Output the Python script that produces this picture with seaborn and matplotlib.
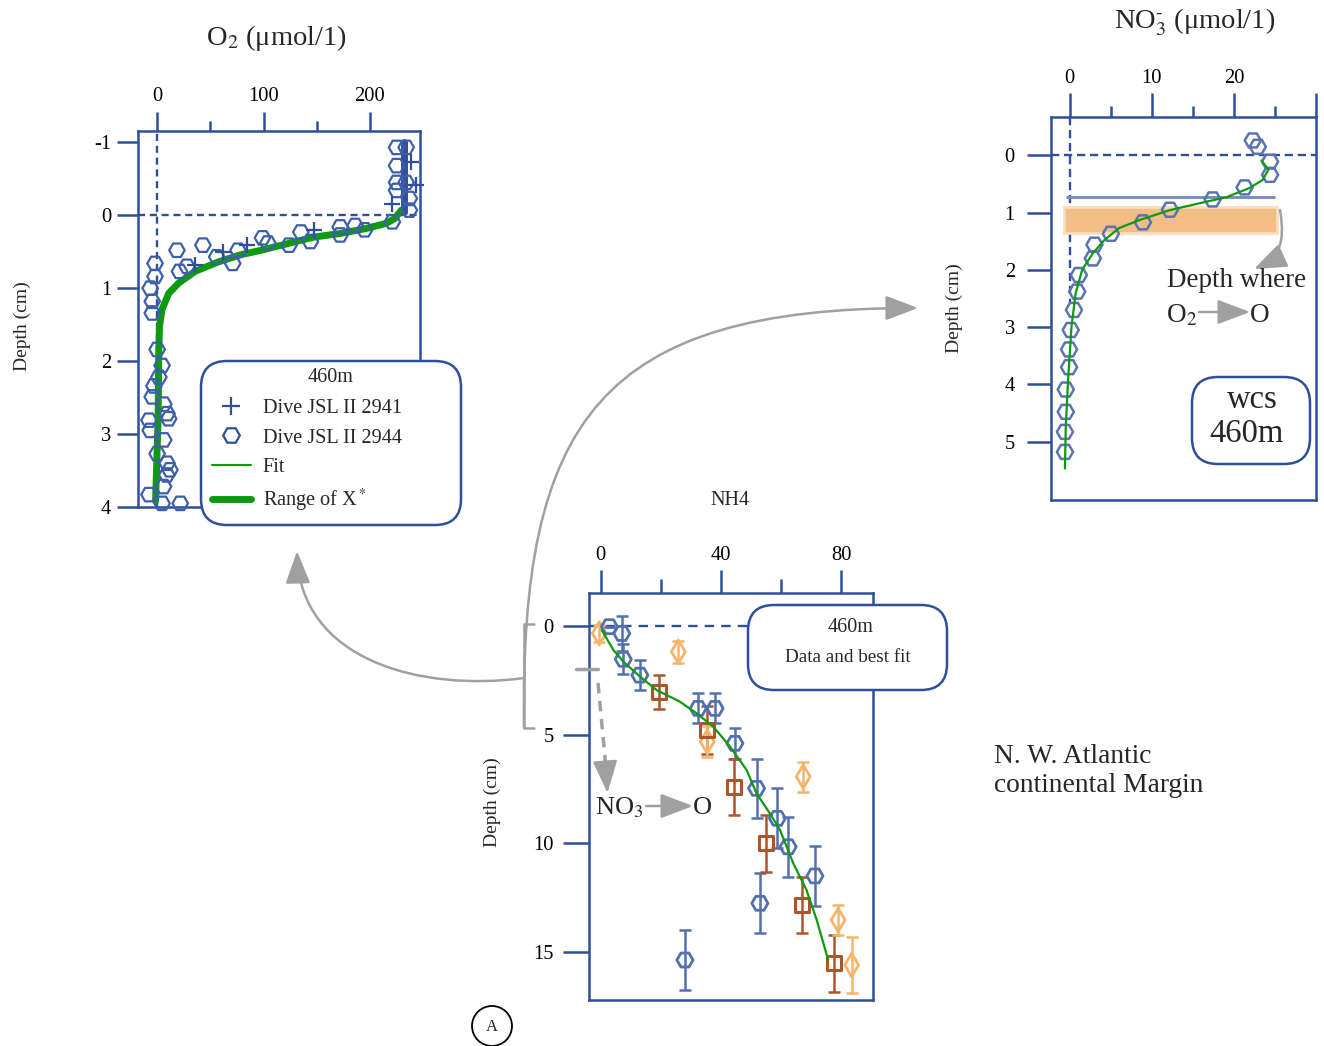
import matplotlib
matplotlib.use('Agg')
import matplotlib.pyplot as plt
import seaborn as sns
from matplotlib.lines import Line2D
from matplotlib.patches import FancyBboxPatch, FancyArrowPatch, Rectangle, Circle, ArrowStyle
from matplotlib.path import Path
from matplotlib.markers import MarkerStyle

sns.set_style('ticks')
plt.rcParams['font.family'] = ['Liberation Serif', 'DejaVu Serif']
plt.rcParams['mathtext.fontset'] = 'stix'
plt.rcParams['axes.unicode_minus'] = False

# ---- O2 profile (umol/l vs depth cm) ----
o2_2944_x = [225, 234, 225, 225, 234, 225, 237, 237, 221, 195, 186, 172, 172, 135, 144, 124,
             104, 99, 76, 71, 56, 43, 18.6, 28, 21, -2, -2, -6.5, -4.6, -4.6, 0, 4.6, 1.6,
             -3, -4.6, 6.2, 9.3, 10.8, -7.7, -6.5, 6.2, 0, 9.3, 12, 9, 6, -7.7, 4.6, 21.7]
o2_2944_depth = [-0.93, -0.93, -0.68, -0.45, -0.45, -0.34, -0.23, -0.07, 0.09, 0.20, 0.14, 0.16,
                 0.27, 0.23, 0.36, 0.41, 0.38, 0.31, 0.48, 0.66, 0.57, 0.41, 0.48, 0.70, 0.77,
                 0.66, 0.84, 1.00, 1.18, 1.34, 1.84, 2.06, 2.22, 2.34, 2.49, 2.59, 2.72, 2.79,
                 2.81, 2.95, 3.08, 3.27, 3.40, 3.49, 3.56, 3.72, 3.83, 3.95, 3.95]
o2_2941_x = [239, 243, 221, 147, 84, 62, 35.7]
o2_2941_depth = [-0.73, -0.41, -0.16, 0.20, 0.41, 0.50, 0.68]
o2_2941_col_x = [231.6, 231.6]
o2_2941_col_depth = [-1.0, -0.05]
o2_fit_x = [229.5, 223.3, 215.5, 197, 172, 147, 122.5, 97.7, 79, 57.4, 35.6, 20.2, 10.9,
            4.6, 2.2, 1.5, 0.9, -1.5]
o2_fit_depth = [-0.07, 0.045, 0.11, 0.18, 0.25, 0.30, 0.39, 0.48, 0.54, 0.64, 0.77, 0.93,
                1.07, 1.29, 1.52, 1.88, 2.79, 3.92]

# ---- NO3 profile ----
no3_x = [22.3, 22.9, 24.4, 24.4, 21.3, 17.4, 12.2, 8.9, 5.0, 3.0, 2.8, 1.1, 0.9, 0.5, 0.1,
         -0.1, -0.1, -0.5, -0.5, -0.6, -0.6]
no3_depth = [-0.26, -0.15, 0.11, 0.34, 0.56, 0.77, 0.95, 1.17, 1.37, 1.56, 1.80, 2.09, 2.38,
             2.70, 3.05, 3.39, 3.70, 4.09, 4.48, 4.83, 5.18]
no3_fit_x = [23.35, 24.2, 23.5, 21.9, 19.1, 15.4, 12.1, 8.5, 6.0, 4.2, 2.8, 1.5, 0.7, 0.2,
             -0.2, -0.5, -0.6]
no3_fit_depth = [0.09, 0.25, 0.43, 0.57, 0.73, 0.85, 0.96, 1.13, 1.27, 1.48, 1.71, 2.0, 2.41,
                 2.99, 3.87, 4.74, 5.47]
no3_o2_zero_depth = 0.73
no3_band = (0.9, 1.35)

# ---- NH4 profile (three series with error bars) ----
nh4_a_x = [2.9, 7.0, 7.5, 13.0, 32.4, 38.0, 44.6, 51.8, 58.7, 62.3, 71.2, 52.9, 28.0]
nh4_a_depth = [0.03, 0.34, 1.53, 2.26, 3.79, 3.79, 5.40, 7.47, 8.85, 10.16, 11.50, 12.76, 15.37]
nh4_a_err = [0, 0.8, 0.7, 0.69, 0.69, 0.69, 0.73, 1.35, 1.38, 1.38, 1.38, 1.38, 1.38]
nh4_b_x = [19.5, 35.4, 44.3, 54.9, 66.8, 77.5]
nh4_b_depth = [3.02, 4.79, 7.40, 10.0, 12.84, 15.52]
nh4_b_err = [0.78, 1.1, 1.3, 1.3, 1.3, 1.3]
nh4_c_x = [-0.5, 25.8, 35.4, 67.3, 78.9, 83.4]
nh4_c_depth = [0.34, 1.18, 5.32, 6.93, 13.53, 15.6]
nh4_c_err = [0.38, 0.5, 0.7, 0.69, 0.69, 1.27]
nh4_fit_x = [0.3, 4.2, 7.5, 13.1, 18.6, 26.3, 31.9, 37.4, 43.0, 48.5, 51.8, 56.2, 59.6, 64.0,
             68.4, 71.8, 75.6]
nh4_fit_depth = [0.18, 1.10, 1.64, 2.33, 2.95, 3.48, 4.02, 4.63, 5.55, 6.63, 7.70, 8.62, 9.39,
                 10.92, 12.15, 13.53, 15.37]

BLUE = '#2f4f9b'
HEX = '#3d5ea8'
NO3_HEX = '#5a74b3'
NH4_BLUE = '#5270b0'
GREEN = '#0e9a0e'
BROWN = '#ac552a'
ORANGE = '#f4b469'
GRAY = '#a0a0a0'

W, H = 1324, 1046
fig = plt.figure(figsize=(W / 100, H / 100), dpi=100)

# overlay in pixel coordinates for annotations
over = fig.add_axes([0, 0, 1, 1])
over.set_xlim(0, W)
over.set_ylim(H, 0)
over.axis('off')
over.set_zorder(10)
px = over.transData


def panel(l, t, r, b):
    return fig.add_axes([l / W, 1 - b / H, (r - l) / W, (b - t) / H])


def style(ax, xlim, ylim, xmaj, xmin, yticks, xl, yl, xpad, ypad, xlabels=None):
    ax.set_xlim(*xlim)
    ax.set_ylim(*ylim)
    ax.xaxis.tick_top()
    ax.set_xticks(xmaj)
    if xlabels is not None:
        ax.set_xticklabels(xlabels)
    ax.set_xticks(xmin, minor=True)
    ax.set_yticks(yticks)
    for s in ax.spines.values():
        s.set_visible(True)
        s.set_color(BLUE)
        s.set_linewidth(1.8)
    ax.tick_params(which='both', colors=BLUE, labelcolor='black', width=1.8,
                   direction='out', labelsize=14.8)
    ax.tick_params(axis='x', which='major', length=xl[0], pad=xpad)
    ax.tick_params(axis='x', which='minor', length=xl[1])
    ax.tick_params(axis='y', which='major', length=yl, pad=ypad, left=True, right=False)
    ax.set_xlabel('')


# ================= O2 panel =================
ax1 = panel(138, 131, 420, 507)
ax1.axhline(0, color=BLUE, lw=1.7, ls=(0, (3, 2)), zorder=1)
ax1.axvline(0, color=BLUE, lw=1.7, ls=(0, (3, 2)), zorder=1)
sns.lineplot(x=o2_fit_x, y=o2_fit_depth, sort=False, estimator=None, ax=ax1,
             color=GREEN, lw=5, zorder=2)
sns.lineplot(x=o2_2941_col_x, y=o2_2941_col_depth, sort=False, estimator=None, ax=ax1,
             color=BLUE, lw=5, zorder=2)
sns.scatterplot(x=o2_2944_x, y=o2_2944_depth, ax=ax1, marker='H', s=125,
                facecolor='none', edgecolor=HEX, linewidth=1.6, zorder=3, clip_on=False)
sns.scatterplot(x=o2_2941_x, y=o2_2941_depth, ax=ax1, marker='+', s=120,
                color=BLUE, linewidth=1.6, zorder=3, clip_on=False)
style(ax1, (-18, 247), (4.0, -1.155), [0, 100, 200], [50, 150], [-1, 0, 1, 2, 3, 4],
      (13.5, 7.5), 15, 4.2, 4.3)
ax1.set_ylabel('Depth (cm)', fontsize=14)
ax1.yaxis.set_label_coords(31, 326, transform=px)

box1 = FancyBboxPatch((201, 361), 260, 164, boxstyle='round,pad=0,rounding_size=26',
                      transform=px, facecolor='white', edgecolor=BLUE, lw=1.8,
                      zorder=4, clip_on=False)
ax1.add_patch(box1)
ax1.text(331, 377, '460m', transform=px, ha='center', va='center', fontsize=14.5, zorder=6)
handles = [
    Line2D([], [], ls='none', marker='+', ms=13, mew=1.6, color=BLUE),
    Line2D([], [], ls='none', marker='H', ms=12, mew=1.6, mfc='none', mec=BLUE),
    Line2D([], [], color=GREEN, lw=1.5),
    Line2D([], [], color=GREEN, lw=5),
]
labels = ['Dive JSL II 2941', 'Dive JSL II 2944', 'Fit', 'Range of X$^*$']
leg = ax1.legend(handles, labels, loc='upper left', bbox_to_anchor=(212, 399),
                 bbox_transform=px, frameon=False, fontsize=14.6, borderpad=0,
                 borderaxespad=0, handlelength=1.9, handletextpad=0.6, labelspacing=0.5)
leg.set_zorder(6)

# ================= NO3 panel =================
ax2 = panel(1051, 117, 1316, 500)
ax2.axhline(0, color=BLUE, lw=1.7, ls=(0, (3.5, 2)), zorder=1)
ax2.vlines(0, -0.67, 2.6, color=BLUE, lw=1.7, ls=(0, (3.5, 2)), zorder=1)
ax2.add_patch(Rectangle((-0.7, no3_band[0]), 25.9, no3_band[1] - no3_band[0],
                        facecolor='#f2bd87', edgecolor='#fadcbf', lw=2, zorder=1))
ax2.hlines(no3_o2_zero_depth, -0.5, 25, color='#7389bf', lw=2, zorder=1.5)
sns.scatterplot(x=no3_x, y=no3_depth, ax=ax2, marker='H', s=135,
                facecolor='none', edgecolor=NO3_HEX, linewidth=1.8, zorder=3, clip_on=False)
sns.lineplot(x=no3_fit_x, y=no3_fit_depth, sort=False, estimator=None, ax=ax2,
             color=GREEN, lw=1.6, zorder=4)
style(ax2, (-2.3, 30), (6.02, -0.67), [0, 10, 20, 30], [5, 15, 25], [0, 1, 2, 3, 4, 5],
      (17, 7.7), 17, 3.8, 9, xlabels=['0', '10', '20', ''])
ax2.set_ylabel('Depth (cm)', fontsize=14)
ax2.yaxis.set_label_coords(963, 308, transform=px)

# ================= NH4 panel =================
ax3 = panel(589, 593, 873, 1000)
ax3.axhline(0, color=BLUE, lw=1.7, ls=(0, (4, 3)), zorder=1)
for xs, ds, es, c in [(nh4_a_x, nh4_a_depth, nh4_a_err, NH4_BLUE),
                      (nh4_b_x, nh4_b_depth, nh4_b_err, BROWN),
                      (nh4_c_x, nh4_c_depth, nh4_c_err, ORANGE)]:
    ax3.errorbar(xs, ds, yerr=es, fmt='none', ecolor=c, elinewidth=1.8, capsize=4.5,
                 capthick=1.8, zorder=2)
sns.scatterplot(x=nh4_c_x, y=nh4_c_depth, ax=ax3, marker='d', s=140,
                facecolor='none', edgecolor=ORANGE, linewidth=2, zorder=3)
sns.scatterplot(x=nh4_a_x, y=nh4_a_depth, ax=ax3, marker='H', s=135,
                facecolor='none', edgecolor=NH4_BLUE, linewidth=2, zorder=3)
sns.scatterplot(x=nh4_b_x, y=nh4_b_depth, ax=ax3, marker=MarkerStyle('s', joinstyle='round'),
                s=100, facecolor='none', edgecolor=BROWN, linewidth=2.2, zorder=3)
sns.lineplot(x=nh4_fit_x, y=nh4_fit_depth, sort=False, estimator=None, ax=ax3,
             color=GREEN, lw=1.6, zorder=4)
style(ax3, (-3.9, 90.5), (17.21, -1.52), [0, 40, 80], [20, 60], [0, 5, 10, 15],
      (16.5, 10), 18.5, 3.6, 7)
ax3.set_ylabel('Depth (cm)', fontsize=14)
ax3.yaxis.set_label_coords(501, 802, transform=px)

box3 = FancyBboxPatch((748, 605), 199, 85, boxstyle='round,pad=0,rounding_size=26',
                      transform=px, facecolor='white', edgecolor=BLUE, lw=1.8,
                      zorder=4, clip_on=False)
ax3.add_patch(box3)
ax3.text(851, 627, '460m', transform=px, ha='center', va='center', fontsize=14.5, zorder=6)
ax3.text(848, 658, 'Data and best fit', transform=px, ha='center', va='center',
         fontsize=13.8, zorder=6)

# ================= titles and annotations =================
over.text(276, 45, 'O$_2$ (μmol/1)', ha='center', va='baseline', fontsize=20.5)
over.text(1195, 29, r'NO$_3^{\text{-}}$ (μmol/1)', ha='center', va='baseline', fontsize=20.5)
over.text(730, 505, 'NH4', ha='center', va='baseline', fontsize=14.5)

head = ArrowStyle('-|>', head_length=1.0, head_width=0.38)


def curve(verts):
    codes = [Path.MOVETO] + [Path.CURVE4] * (len(verts) - 1)
    return FancyArrowPatch(path=Path(verts, codes), arrowstyle=head, mutation_scale=20,
                           color=GRAY, lw=1.8, transform=px)


def straight(p0, p1):
    return FancyArrowPatch(p0, p1, arrowstyle=head, mutation_scale=20, color=GRAY,
                           lw=1.8, shrinkA=0, shrinkB=0, transform=px)


over.add_patch(curve([(524, 728), (520, 420), (600, 308), (918, 308)]))
over.add_patch(curve([(524, 678), (420, 692), (300, 660), (297, 551)]))
over.add_patch(curve([(1280, 210), (1286, 245), (1278, 258), (1254, 269)]))
over.plot([534, 524, 524, 534], [624, 624, 728, 728], color=GRAY, lw=1.8)
over.plot([576, 598], [669, 669], color=GRAY, lw=2.5)
over.plot([598, 606], [683, 768], color=GRAY, lw=2.5, ls=(0, (3, 2.2)))
over.add_patch(straight((605, 760), (607.5, 793)))

over.text(1237, 287, 'Depth where', ha='center', va='baseline', fontsize=19.5)
over.text(1197, 322, 'O$_2$', ha='right', va='baseline', fontsize=19.5)
over.add_patch(straight((1199, 312), (1250, 312)))
over.text(1250, 322, 'O', ha='left', va='baseline', fontsize=19.5)

over.text(595, 814, 'NO$_3$', ha='left', va='baseline', fontsize=19)
over.add_patch(straight((646, 806), (693, 806)))
over.text(693, 814, 'O', ha='left', va='baseline', fontsize=19)

over.add_patch(FancyBboxPatch((1192, 377), 118, 87, boxstyle='round,pad=0,rounding_size=26',
                              transform=px, facecolor='white', edgecolor=BLUE, lw=1.8))
over.text(1252, 408, 'wcs', ha='center', va='baseline', fontsize=23.5)
over.text(1247, 442, '460m', ha='center', va='baseline', fontsize=23.5)

over.text(994, 763, 'N. W. Atlantic', ha='left', va='baseline', fontsize=19.8)
over.text(994, 792, 'continental Margin', ha='left', va='baseline', fontsize=19.8)

over.add_patch(Circle((492, 1026), 20, transform=px, facecolor='none', edgecolor='black', lw=1.3))
over.text(492, 1027, 'A', ha='center', va='center', fontsize=12)

fig.savefig('out.png', dpi=100)
